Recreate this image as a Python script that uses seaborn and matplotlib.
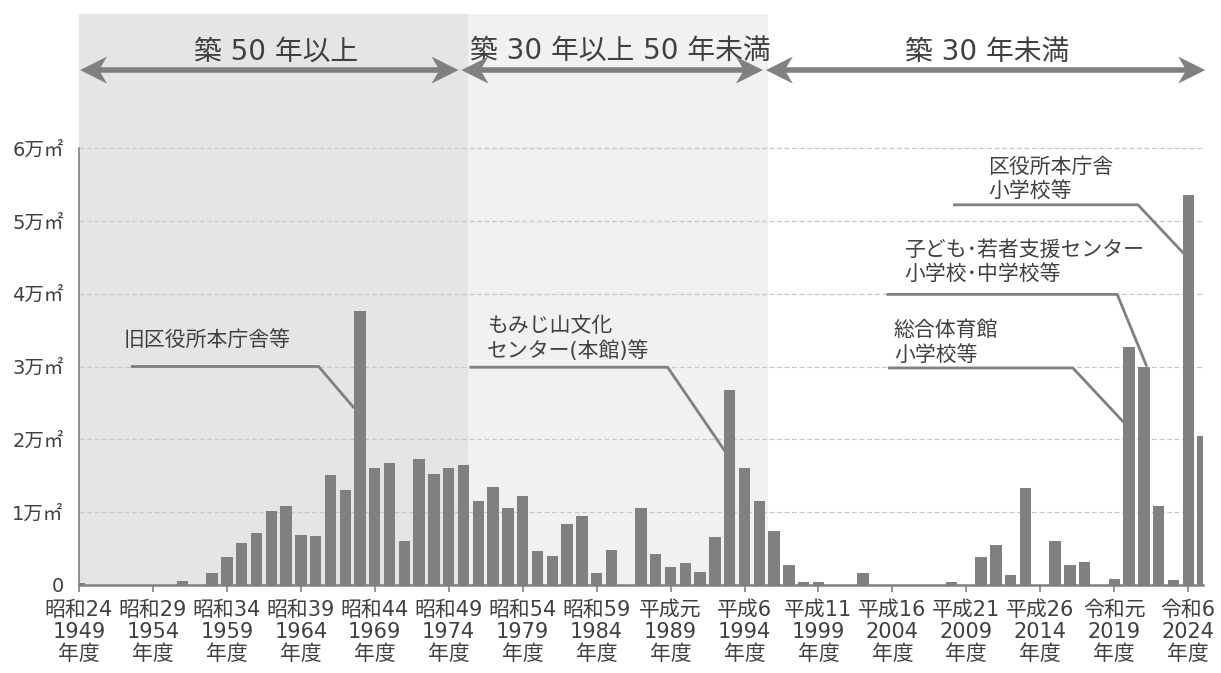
import matplotlib
matplotlib.use('Agg')
import matplotlib.pyplot as plt
import matplotlib.transforms as mtransforms
from matplotlib.patches import Polygon
import seaborn as sns
import pandas as pd

# === Data: floor area by construction year (万㎡) ===
years = list(range(1949, 2026))
areas = [
    0.03, 0, 0, 0, 0, 0, 0, 0.05, 0, 0.17,
    0.38, 0.58, 0.71, 1.02, 1.09, 0.68, 0.67, 1.51, 1.30, 3.76,
    1.60, 1.67, 0.61, 1.73, 1.53, 1.60, 1.65, 1.16, 1.35, 1.06,
    1.22, 0.47, 0.40, 0.84, 0.95, 0.17, 0.48, 0, 1.06, 0.43,
    0.25, 0.30, 0.18, 0.66, 2.68, 1.60, 1.15, 0.74, 0.27, 0.04,
    0.04, 0, 0, 0.16, 0, 0, 0, 0, 0, 0.04,
    0, 0.38, 0.55, 0.14, 1.33, 0, 0.60, 0.27, 0.31, 0,
    0.08, 3.27, 2.99, 1.09, 0.07, 5.35, 2.05,
]
tick_years = list(range(1949, 2025, 5))
tick_eras = ['昭和24', '昭和29', '昭和34', '昭和39', '昭和44', '昭和49', '昭和54', '昭和59',
             '平成元', '平成6', '平成11', '平成16', '平成21', '平成26', '令和元', '令和6']
ytick_vals = [0, 1, 2, 3, 4, 5, 6]
ytick_labels = ['0', '1万㎡', '2万㎡', '3万㎡', '4万㎡', '5万㎡', '6万㎡']

df = pd.DataFrame({'year': years, 'area': areas})

sns.set_theme(style='white')
# wide digits from DejaVu, CJK from Noto
plt.rcParams['font.family'] = ['DejaVu Sans', 'Noto Sans CJK JP']

GRAY = '#808080'
TXT = '#404040'

fig = plt.figure(figsize=(12.21, 6.73), dpi=100)
ax = fig.add_axes([79 / 1221, 88 / 673, (1203 - 79) / 1221, (585 - 14) / 673])

# === Age bands ===
ax.axvspan(1949, 1975.3, color='#e4e5e7', zorder=0, lw=0)
ax.axvspan(1975.3, 1995.6, color='#f1f1f1', zorder=0, lw=0)

sns.barplot(data=df, x='year', y='area', native_scale=True, color=GRAY,
            saturation=1, width=0.77, ax=ax, zorder=3, linewidth=0)

ax.set_xlim(1949, 2025)
ax.set_ylim(0, 7.84)
ax.set_yticks(ytick_vals)
ax.set_yticklabels(ytick_labels, fontsize=14, color=TXT)
ax.set_xticks(tick_years)
ax.set_xticklabels([f'{e}\n{y}\n年度' for e, y in zip(tick_eras, tick_years)],
                   fontsize=15, color=TXT, linespacing=1.12)
ax.tick_params(axis='y', length=0, pad=11)
ax.tick_params(axis='x', length=5, width=1.2, color=GRAY, pad=6, bottom=True)
ax.set_xlabel('')
ax.set_ylabel('')

ax.yaxis.grid(True, linestyle=(0, (4, 2)), color='#c8c8c8', lw=0.9, zorder=1)
ax.set_axisbelow(True)
for s in ['top', 'right']:
    ax.spines[s].set_visible(False)
ax.spines['left'].set_bounds(0, 6)
ax.spines['left'].set_color(GRAY)
ax.spines['left'].set_linewidth(1.2)
ax.spines['bottom'].set_color(GRAY)
ax.spines['bottom'].set_linewidth(1.8)


# === Band arrows (notched heads) ===
def head(x, y, direction):
    # vertices in inches, relative to the tip
    L, W, N = 0.27, 0.135, 0.19
    pts = [(0, 0), (L, W), (N, 0), (L, -W)]
    pts = [(direction * px, py) for px, py in pts]
    tr = fig.dpi_scale_trans + mtransforms.ScaledTranslation(x, y, ax.transData)
    ax.add_patch(Polygon(pts, closed=True, transform=tr, color=GRAY, lw=0,
                         clip_on=False, zorder=5))


arrow_y = 7.07
for x0, x1 in [(1949.07, 1974.66), (1974.86, 1995.24), (1995.44, 2025.15)]:
    ax.plot([x0 + 0.8, x1 - 0.8], [arrow_y, arrow_y], color=GRAY, lw=4,
            solid_capstyle='butt', clip_on=False, zorder=5)
    head(x0, arrow_y, 1)
    head(x1, arrow_y, -1)

ax.text(1962.3, 7.32, '築 50 年以上', fontsize=20, color=TXT, ha='center', va='center')
ax.text(1985.6, 7.32, '築 30 年以上 50 年未満', fontsize=20, color=TXT, ha='center', va='center')
ax.text(2010.4, 7.32, '築 30 年未満', fontsize=20, color=TXT, ha='center', va='center')

# === Leader lines and notes ===
leaders = [
    ([1952.5, 1965.2, 1967.6], [3.0, 3.0, 2.43]),
    ([1975.4, 1988.8, 1992.7], [2.99, 2.99, 1.83]),
    ([2003.7, 2016.2, 2019.7], [2.98, 2.98, 2.22]),
    ([2003.6, 2019.2, 2021.2], [3.99, 3.99, 3.0]),
    ([2008.1, 2020.6, 2023.8], [5.22, 5.22, 4.53]),
]
for xs, ys in leaders:
    ax.plot(xs, ys, color=GRAY, lw=2, zorder=4, solid_capstyle='butt')

notes = [
    (1952.0, 3.36, '旧区役所本庁舎等'),
    (1976.6, 3.38, 'もみじ山文化\nセンター(本館)等'),
    (2004.1, 3.33, '総合体育館\n小学校等'),
    (2004.8, 4.43, '子ども･若者支援センター\n小学校･中学校等'),
    (2010.5, 5.58, '区役所本庁舎\n小学校等'),
]
for x, y, t in notes:
    ax.text(x, y, t, fontsize=15, color=TXT, ha='left', va='center', linespacing=1.25)

plt.savefig('out.png', dpi=100)
